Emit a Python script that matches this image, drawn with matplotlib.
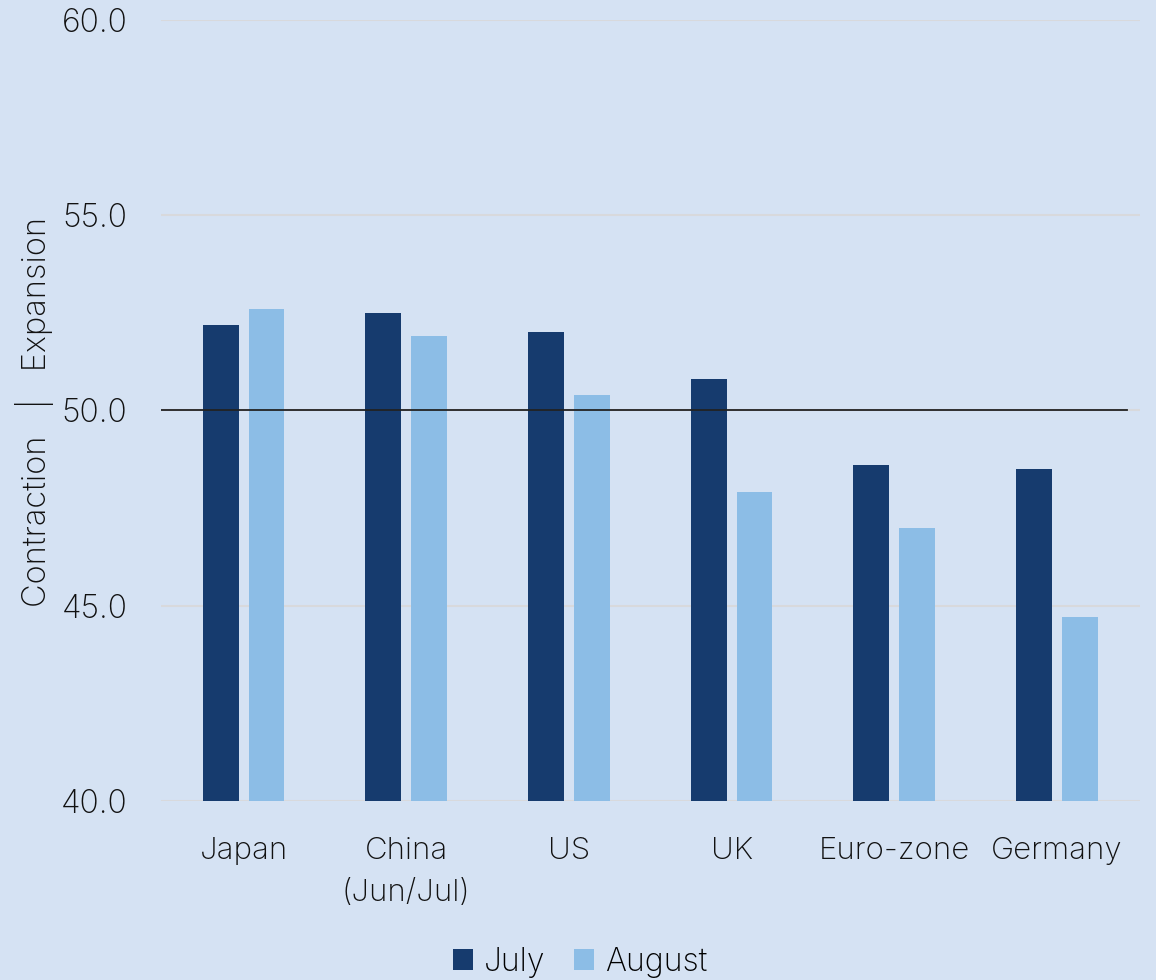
import matplotlib
matplotlib.use("Agg")
import matplotlib.pyplot as plt
import numpy as np

categories = ["Japan", "China\n(Jun/Jul)", "US", "UK", "Euro-zone", "Germany"]
july = [52.2, 52.5, 52.0, 50.8, 48.6, 48.5]
august = [52.6, 51.9, 50.4, 47.9, 47.0, 44.7]
yticks = [40.0, 45.0, 50.0, 55.0, 60.0]

bg = "#d5e2f3"
c_july = "#163b6e"
c_aug = "#8cbde6"

plt.rcParams['font.family'] = ['Inter', 'DejaVu Sans']
plt.rcParams['font.weight'] = 'light'
plt.rcParams['axes.labelweight'] = 'light'

fig = plt.figure(figsize=(11.56, 9.8), dpi=100, facecolor=bg)
ax = fig.add_axes([0.139, 0.1827, 0.847, 0.7969], facecolor=bg)

x = np.arange(len(categories))
w = 0.22
off = 0.141
ax.bar(x - off, july, w, color=c_july, label="July", zorder=2)
ax.bar(x + off, august, w, color=c_aug, label="August", zorder=2)

ax.set_ylim(40, 60)
ax.set_xlim(-0.51, 5.51)
ax.set_yticks(yticks)
ax.set_yticklabels([f"{v:.1f}" for v in yticks], fontsize=23, color="#111111")
ax.set_xticks(x)
ax.set_xticklabels(categories, fontsize=22.5, color="#111111", linespacing=1.65)
ax.tick_params(axis='y', length=0, pad=24)
ax.tick_params(axis='x', length=0, pad=26)
ax.yaxis.grid(True, color="#d8d9dc", linewidth=1.5, zorder=0)
ax.set_axisbelow(True)
for s in ax.spines.values():
    s.set_visible(False)
ax.axhline(50, xmin=0, xmax=(1127 - 160) / 980, color="#222222", linewidth=1.3, zorder=3)

fig.text(35 / 1156, 1 - 412 / 980, "Contraction   |   Expansion", rotation=90,
         ha="center", va="center", fontsize=23.5, color="#111111", fontweight="light")

leg = fig.legend(loc="lower center", bbox_to_anchor=(0.502, -0.027), ncol=2, frameon=False,
                 fontsize=23, handlelength=0.62, handleheight=0.62, handletextpad=0.35,
                 columnspacing=0.9)

fig.savefig("out.png", dpi=100, facecolor=bg)
